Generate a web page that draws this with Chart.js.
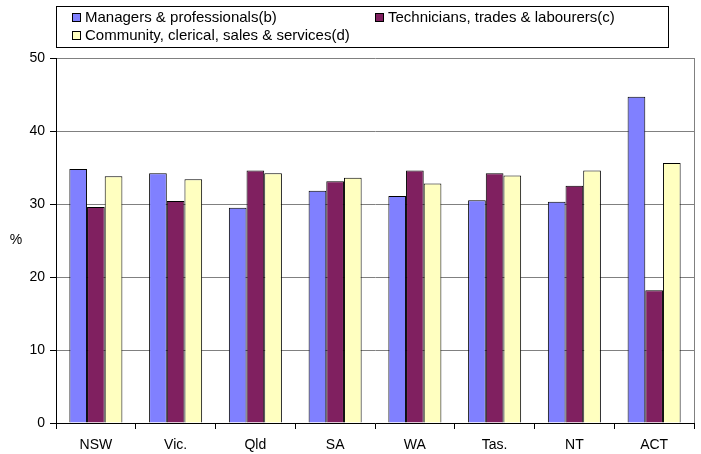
<!DOCTYPE html>
<html>
<head>
<meta charset="utf-8">
<script src="https://cdn.jsdelivr.net/npm/chart.js@4"></script>
<style>
  body { margin: 0; background: #fff; }
  #wrap { width: 701px; height: 454px; }
</style>
</head>
<body>
<div id="wrap"><canvas id="occChart" width="701" height="454"></canvas></div>
<script>
// states / territories
const categories = ['NSW', 'Vic.', 'Qld', 'SA', 'WA', 'Tas.', 'NT', 'ACT'];
// % of employed persons
const managers = [34.8, 34.2, 29.5, 31.8, 31.1, 30.5, 30.3, 44.7];
const technicians = [29.6, 30.4, 34.6, 33.1, 34.6, 34.2, 32.5, 18.2];
const community = [33.8, 33.4, 34.2, 33.6, 32.8, 33.9, 34.6, 35.6];
const yTicks = [0, 10, 20, 30, 40, 50];

const FONT = "'Liberation Sans', Arial, sans-serif";

// legend box + "%" label + right border of plot
const extras = {
  id: 'extras',
  beforeDatasetsDraw(chart) {
    const ctx = chart.ctx, a = chart.chartArea;
    ctx.save();
    ctx.strokeStyle = '#808080';
    ctx.lineWidth = 1;
    ctx.beginPath();
    ctx.moveTo(a.right + 0.5, a.top);
    ctx.lineTo(a.right + 0.5, a.bottom);
    ctx.stroke();
    ctx.restore();
  },
  afterDraw(chart) {
    const ctx = chart.ctx;
    ctx.save();
    // y title
    ctx.fillStyle = '#000';
    ctx.font = '14px ' + FONT;
    ctx.textAlign = 'center';
    ctx.textBaseline = 'middle';
    ctx.fillText('%', 16, 240);

    // legend
    ctx.fillStyle = '#fff';
    ctx.fillRect(56, 6, 612, 41);
    ctx.strokeStyle = '#000';
    ctx.lineWidth = 1;
    ctx.strokeRect(56.5, 6.5, 612, 41);
    const pos = [[72, 17.5], [375, 17.5], [72, 35.5]];
    ctx.font = '15px ' + FONT;
    ctx.textAlign = 'left';
    chart.data.datasets.forEach((ds, i) => {
      const [x, y] = pos[i];
      ctx.fillStyle = ds.backgroundColor;
      ctx.fillRect(x, y - 4.5, 9, 9);
      ctx.strokeStyle = '#000';
      ctx.strokeRect(x + 0.5, y - 4, 8, 8);
      ctx.fillStyle = '#000';
      ctx.fillText(ds.label, x + 13, y + 0.5);
    });
    ctx.restore();
  }
};

new Chart(document.getElementById('occChart'), {
  type: 'bar',
  data: {
    labels: categories,
    datasets: [
      { label: 'Managers & professionals(b)', data: managers, backgroundColor: '#8080FF' },
      { label: 'Technicians, trades & labourers(c)', data: technicians, backgroundColor: '#802060' },
      { label: 'Community, clerical, sales & services(d)', data: community, backgroundColor: '#FFFFC0' }
    ]
  },
  options: {
    responsive: false,
    animation: false,
    layout: { padding: { top: 58, right: 7, left: 0, bottom: 0 } },
    datasets: {
      bar: {
        borderColor: '#000',
        borderWidth: 1,
        categoryPercentage: 0.665,
        barPercentage: 1
      }
    },
    plugins: {
      legend: { display: false },
      tooltip: { enabled: false }
    },
    scales: {
      x: {
        afterFit(s) { s.height = 31; },
        grid: { drawOnChartArea: false, drawTicks: true, tickLength: 6, tickColor: '#000', offset: true },
        border: { display: true, color: '#000' },
        ticks: { color: '#000', font: { family: FONT, size: 14 }, padding: 8, maxRotation: 0 }
      },
      y: {
        min: 0,
        max: 50,
        afterFit(s) { s.width = 56; },
        afterBuildTicks(s) { s.ticks = yTicks.map(v => ({ value: v })); },
        grid: { color: '#808080', tickColor: '#000', tickLength: 6 },
        border: { display: true, color: '#000' },
        ticks: { color: '#000', font: { family: FONT, size: 14 }, padding: 5 }
      }
    }
  },
  plugins: [extras]
});
</script>
</body>
</html>
